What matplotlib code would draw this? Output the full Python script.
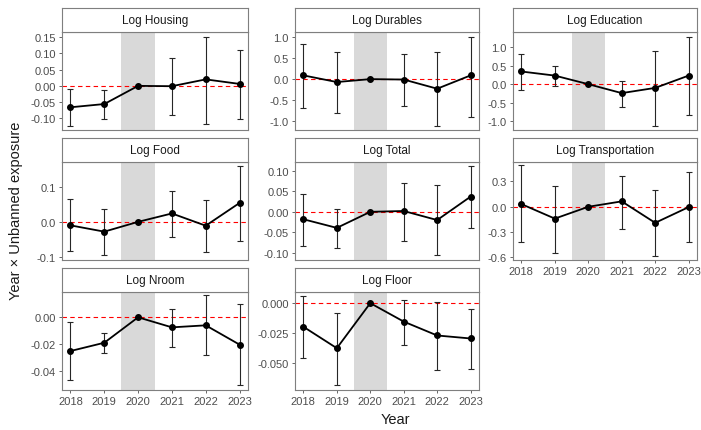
import matplotlib
matplotlib.use("Agg")
import matplotlib.pyplot as plt
from matplotlib.ticker import FormatStrFormatter

plt.rcParams["font.family"] = ["Liberation Sans", "DejaVu Sans"]

years = [2018, 2019, 2020, 2021, 2022, 2023]

# estimates, lower and upper bounds per outcome
housing = [-0.066, -0.056, 0.0, -0.001, 0.020, 0.006]
housing_lo = [-0.124, -0.103, 0.0, -0.090, -0.119, -0.101]
housing_hi = [-0.009, -0.012, 0.0, 0.085, 0.152, 0.110]

durables = [0.09, -0.07, 0.0, -0.01, -0.23, 0.09]
durables_lo = [-0.69, -0.81, 0.0, -0.65, -1.13, -0.90]
durables_hi = [0.85, 0.65, 0.0, 0.61, 0.66, 1.02]

education = [0.34, 0.23, 0.0, -0.24, -0.10, 0.23]
education_lo = [-0.16, -0.06, 0.0, -0.60, -1.13, -0.84]
education_hi = [0.82, 0.50, 0.0, 0.08, 0.89, 1.27]

food = [-0.010, -0.028, 0.0, 0.024, -0.011, 0.054]
food_lo = [-0.084, -0.094, 0.0, -0.044, -0.087, -0.056]
food_hi = [0.065, 0.038, 0.0, 0.089, 0.063, 0.161]

total = [-0.018, -0.039, 0.0, 0.002, -0.020, 0.037]
total_lo = [-0.082, -0.088, 0.0, -0.070, -0.106, -0.039]
total_hi = [0.043, 0.008, 0.0, 0.070, 0.066, 0.112]

transport = [0.032, -0.14, 0.0, 0.064, -0.19, -0.004]
transport_lo = [-0.42, -0.55, 0.0, -0.26, -0.58, -0.42]
transport_hi = [0.49, 0.25, 0.0, 0.37, 0.20, 0.41]

nroom = [-0.0252, -0.019, 0.0, -0.0075, -0.006, -0.0204]
nroom_lo = [-0.047, -0.027, 0.0, -0.022, -0.0284, -0.0508]
nroom_hi = [-0.0035, -0.0118, 0.0, 0.0065, 0.0164, 0.0103]

floor = [-0.0197, -0.0376, 0.0, -0.0154, -0.027, -0.0295]
floor_lo = [-0.0455, -0.068, 0.0, -0.0346, -0.0556, -0.0548]
floor_hi = [0.0062, -0.0084, 0.0, 0.0028, 0.0006, -0.005]

W, H = 701, 431
fig = plt.figure(figsize=(W / 100, H / 100), dpi=100)

cols = [(62, 248), (295, 479), (513, 697)]
rows = [(9, 33, 131), (139, 163, 261), (269, 293, 391)]

panels = [
    ("Log Housing", housing, housing_lo, housing_hi, (-0.136, 0.166),
     [-0.10, -0.05, 0.0, 0.05, 0.10, 0.15], "%.2f", 0, 0, False),
    ("Log Durables", durables, durables_lo, durables_hi, (-1.22, 1.13),
     [-1.0, -0.5, 0.0, 0.5, 1.0], "%.1f", 0, 1, False),
    ("Log Education", education, education_lo, education_hi, (-1.23, 1.40),
     [-1.0, -0.5, 0.0, 0.5, 1.0], "%.1f", 0, 2, False),
    ("Log Food", food, food_lo, food_hi, (-0.109, 0.171),
     [-0.1, 0.0, 0.1], "%.1f", 1, 0, False),
    ("Log Total", total, total_lo, total_hi, (-0.117, 0.121),
     [-0.10, -0.05, 0.0, 0.05, 0.10], "%.2f", 1, 1, False),
    ("Log Transportation", transport, transport_lo, transport_hi, (-0.63, 0.53),
     [-0.6, -0.3, 0.0, 0.3], "%.1f", 1, 2, True),
    ("Log Nroom", nroom, nroom_lo, nroom_hi, (-0.0543, 0.0189),
     [-0.04, -0.02, 0.0], "%.2f", 2, 0, True),
    ("Log Floor", floor, floor_lo, floor_hi, (-0.0725, 0.0093),
     [-0.050, -0.025, 0.0], "%.3f", 2, 1, True),
]

border = "#7F7F7F"
tick_col = "#4D4D4D"

for title, est, lo, hi, ylim, yticks, fmt, r, c, show_x in panels:
    x0, x1 = cols[c]
    s0, s1, a1 = rows[r]
    ax = fig.add_axes([x0 / W, 1 - a1 / H, (x1 - x0) / W, (a1 - s1) / H])
    st = fig.add_axes([x0 / W, 1 - s1 / H, (x1 - x0) / W, (s1 - s0) / H])

    st.set_xticks([])
    st.set_yticks([])
    for sp in st.spines.values():
        sp.set_color(border)
        sp.set_linewidth(0.8)
    st.text(0.5, 0.5, title, ha="center", va="center", fontsize=8.5,
            color="#1A1A1A", transform=st.transAxes)

    ax.axvspan(2019.5, 2020.5, color="#D9D9D9", lw=0, zorder=0)
    ax.axhline(0, color="red", lw=0.8, ls=(0, (4, 3)), zorder=1)
    yerr = [[e - l for e, l in zip(est, lo)], [h - e for e, h in zip(est, hi)]]
    ax.errorbar(years, est, yerr=yerr, fmt="none", ecolor="#262626",
                elinewidth=0.8, capsize=2.2, capthick=0.8, zorder=2)
    ax.plot(years, est, color="black", lw=1.3, marker="o", ms=4, zorder=3)

    ax.set_xlim(2017.75, 2023.25)
    ax.set_ylim(*ylim)
    ax.set_yticks(yticks)
    ax.yaxis.set_major_formatter(FormatStrFormatter(fmt))
    ax.set_xticks(years)
    ax.tick_params(axis="both", labelsize=8, colors=tick_col, length=2.5,
                   width=0.6, pad=2)
    if show_x:
        ax.set_xticklabels([str(y) for y in years])
    else:
        ax.tick_params(axis="x", length=0, labelbottom=False)
    for sp in ax.spines.values():
        sp.set_color(border)
        sp.set_linewidth(0.8)

fig.text(395 / W, 1 - 420 / H, "Year", ha="center", va="center", fontsize=10.5,
         color="#1A1A1A")
fig.text(16 / W, 1 - 211 / H, "Year × Unbanned exposure", ha="center",
         va="center", rotation=90, fontsize=10.5, color="#1A1A1A")

fig.savefig("out.png", dpi=100)
